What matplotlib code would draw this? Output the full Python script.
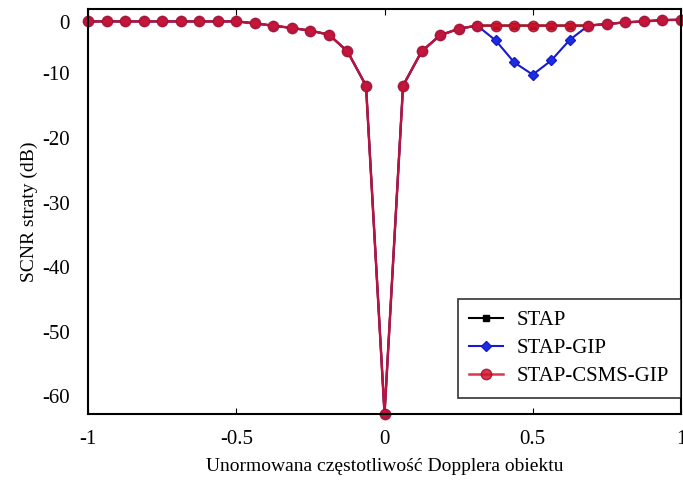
import numpy as np
from matplotlib import pyplot as plt

plt.rcParams['font.family'] = ['Liberation Serif', 'DejaVu Serif']

# normalised Doppler frequency, 33 points over [-1, 1]
freq = np.linspace(-1, 1, 33)

# SCNR loss (dB)
stap = [-1.95, -1.95, -1.95, -1.95, -1.95, -1.95, -1.95, -1.95, -1.95,
        -2.26, -2.62, -2.97, -3.39, -4.0, -6.6, -11.9, -62.7,
        -11.9, -6.6, -4.1, -3.1, -2.6, -2.6, -2.6, -2.6, -2.6, -2.6, -2.6,
        -2.36, -2.1, -1.95, -1.75, -1.7]
stap_gip = [-1.95, -1.95, -1.95, -1.95, -1.95, -1.95, -1.95, -1.95, -1.95,
            -2.26, -2.62, -2.97, -3.39, -4.0, -6.6, -11.9, -62.7,
            -11.9, -6.6, -4.1, -3.1, -2.6, -4.9, -8.3, -10.2, -8.0, -4.8, -2.6,
            -2.36, -2.1, -1.95, -1.75, -1.7]
stap_csms_gip = list(stap)

ytick_vals = [-60, -50, -40, -30, -20, -10, -2]
ytick_text = ['-60', '-50', '-40', '-30', '-20', '-10', '0']
xtick_vals = [-1, -0.5, 0, 0.5, 1]
xtick_text = ['-1', '-0.5', '0', '0.5', '1']

fig = plt.figure(figsize=(6.83, 4.88), dpi=100)
ax = fig.add_axes([0.129, 0.152, 0.868, 0.830])

ax.plot(freq, stap, color='black', marker='s', markersize=5, lw=1.5,
        label='STAP', clip_on=False)
ax.plot(freq, stap_gip, color='#1a1acc', marker='D', markersize=5,
        markerfacecolor='#1a30e0', lw=1.5, label='STAP-GIP', clip_on=False)
ax.plot(freq, stap_csms_gip, color='#d4142c', marker='o', markersize=7.5,
        markeredgecolor='#a01030', lw=1.8, alpha=0.85, label='STAP-CSMS-GIP',
        clip_on=False)

ax.set_xlim(-1, 1)
ax.set_ylim(-62.7, 0)
ax.set_xticks(xtick_vals, xtick_text)
ax.set_yticks(ytick_vals, ytick_text)
ax.tick_params(direction='in', top=True, right=True, labelsize=15, length=4,
               width=0.8)
ax.tick_params(axis='x', pad=12)
ax.tick_params(axis='y', length=0, pad=13)
ax.set_yticks([-60, -50, -40, -30, -20, -10], minor=True)
ax.tick_params(axis='y', which='minor', direction='in', length=4, right=True)
for s in ax.spines.values():
    s.set_linewidth(1.5)

ax.set_xlabel('Unormowana częstotliwość Dopplera obiektu', fontsize=14, labelpad=6)
ax.set_ylabel('SCNR straty (dB)', fontsize=14, labelpad=3)

leg = ax.legend(loc='lower right', fontsize=15, frameon=True, fancybox=False,
                edgecolor='black', borderpad=0.55, handlelength=1.6,
                handletextpad=0.7, labelspacing=0.4, borderaxespad=0,
                bbox_to_anchor=(1.0, 0.04))
leg.get_frame().set_linewidth(1.2)

fig.savefig('out.png', dpi=100)
